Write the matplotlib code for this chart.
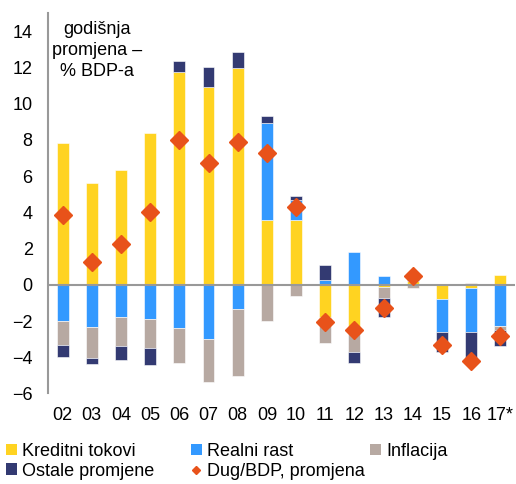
import numpy as np
import matplotlib
matplotlib.use("Agg")
import matplotlib.pyplot as plt
from matplotlib.patches import Patch
from matplotlib.lines import Line2D

plt.rcParams['font.family'] = ['Liberation Sans', 'DejaVu Sans']
plt.rcParams['font.size'] = 13

### data
years = ['02', '03', '04', '05', '06', '07', '08', '09', '10', '11', '12', '13', '14', '15', '16', '17*']

kreditni = [7.8, 5.6, 6.35, 8.4, 11.75, 10.9, 11.95, 3.57, 3.57, -1.77, -2.41, -0.1, 0.2, -0.81, -0.18, 0.55]
realni = [-2.0, -2.35, -1.78, -1.9, -2.39, -3.0, -1.34, 5.38, 1.1, 0.26, 1.79, 0.46, 0.12, -1.8, -2.43, -2.28]
inflacija = [-1.3, -1.7, -1.6, -1.58, -1.95, -2.36, -3.69, -2.02, -0.64, -1.43, -1.29, -0.62, -0.15, 0.0, 0.1, -0.22]
ostale = [-0.7, -0.33, -0.78, -0.92, 0.59, 1.13, 0.91, 0.37, 0.24, 0.84, -0.59, -1.05, 0.0, -1.09, -1.55, -0.89]
dug = [3.85, 1.25, 2.23, 4.03, 8.0, 6.7, 7.9, 7.29, 4.31, -2.06, -2.5, -1.3, 0.48, -3.3, -4.18, -2.8]

names = ['Kreditni tokovi', 'Realni rast', 'Inflacija', 'Ostale promjene']
colors = ['#FFD321', '#3399FF', '#B7A9A2', '#333A72']
orange = '#E8521A'

fig = plt.figure(figsize=(5.16, 4.84), dpi=100)
ax = fig.add_axes([0.093, 0.187, 0.905, 0.786])

x = np.arange(len(years))
pos = np.zeros(len(years))
neg = np.zeros(len(years))
for vals, c in zip([kreditni, realni, inflacija, ostale], colors):
    v = np.array(vals)
    bottom = np.where(v >= 0, pos, neg)
    ax.bar(x, v, 0.41, bottom=bottom, color=c, edgecolor='white', linewidth=0.4, zorder=2)
    pos = pos + np.where(v >= 0, v, 0)
    neg = neg + np.where(v < 0, v, 0)

ax.plot(x, dug, linestyle='none', marker='D', markersize=9, color=orange, zorder=4)
ax.axhline(0, color='#999999', linewidth=1.5, zorder=3)

ax.set_xlim(-0.5, len(years) - 0.5)
ax.set_ylim(-6, 15)
ax.set_yticks(np.arange(-6, 15, 2))
ax.set_xticks(x)
ax.set_xticklabels(years)
ax.tick_params(axis='both', length=0, labelsize=13)
ax.tick_params(axis='y', pad=11)
ax.tick_params(axis='x', pad=10)
for s in ['top', 'right', 'bottom']:
    ax.spines[s].set_visible(False)
ax.spines['left'].set_color('#999999')
ax.spines['left'].set_linewidth(1.5)

ax.text(0.105, 0.978, 'godišnja\npromjena –\n% BDP-a', transform=ax.transAxes,
        ha='center', va='top', fontsize=13, linespacing=1.3)

### legend
def sq(c):
    return Patch(facecolor=c, edgecolor='none')

kw = dict(frameon=False, handlelength=0.6, handleheight=0.6, handletextpad=0.3,
          borderpad=0, borderaxespad=0, labelspacing=0.15, fontsize=13, loc='upper left')
l1 = fig.legend([sq(colors[0]), sq(colors[3])], [names[0], names[3]],
                bbox_to_anchor=(0.012, 0.085), **kw)
l2 = fig.legend([sq(colors[1]), Line2D([], [], linestyle='none', marker='D', markersize=4.5, color=orange)],
                [names[1], 'Dug/BDP, promjena'], bbox_to_anchor=(0.370, 0.085), **kw)
l3 = fig.legend([sq(colors[2])], [names[2]], bbox_to_anchor=(0.717, 0.085), **kw)

fig.savefig('out.png', dpi=100)
